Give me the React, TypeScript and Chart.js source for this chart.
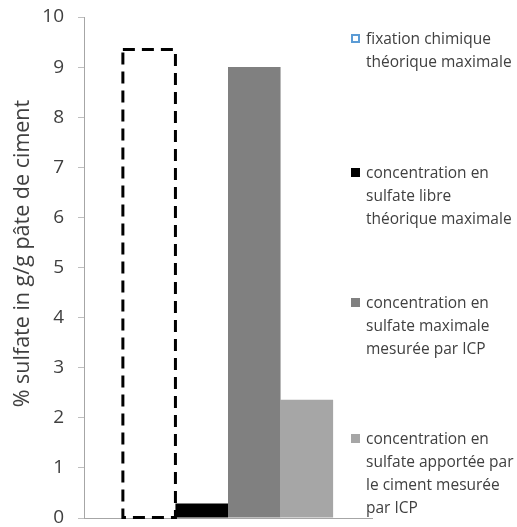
import React, { useEffect, useRef } from "react";
import { Chart, registerables } from "chart.js";

Chart.register(...registerables);

// ---- data ----
const categories = [""];
const fixationValues = [9.35];
const libreValues = [0.29];
const maxMesureeValues = [9.0];
const apporteeValues = [2.36];
const seriesNames = [
  "fixation chimique théorique maximale",
  "concentration en sulfate libre théorique maximale",
  "concentration en sulfate maximale mesurée par ICP",
  "concentration en sulfate apportée par le ciment mesurée par ICP",
];
const legendLines = [
  ["fixation chimique", "théorique maximale"],
  ["concentration en", "sulfate libre", "théorique maximale"],
  ["concentration en", "sulfate maximale", "mesurée par ICP"],
  ["concentration en", "sulfate apportée par", "le ciment mesurée", "par ICP"],
];
const yMin = 0;
const yMax = 10;
const yStep = 1;
const yTitle = "% sulfate in g/g pâte de ciment";

const FONT = "'Open Sans', sans-serif";
const TEXT = "#404040";

const dashedOutline = {
  id: "dashedOutline",
  afterDatasetsDraw(chart: any) {
    const meta = chart.getDatasetMeta(0);
    const ctx = chart.ctx;
    meta.data.forEach((el: any) => {
      const { x, y, base, width } = el.getProps(["x", "y", "base", "width"], true);
      ctx.save();
      ctx.setLineDash([12, 7]);
      ctx.lineWidth = 3;
      ctx.strokeStyle = "#000000";
      ctx.strokeRect(x - width / 2, y, width, base - y);
      ctx.restore();
    });
  },
};

export default function App() {
  const ref = useRef<HTMLCanvasElement | null>(null);

  useEffect(() => {
    if (!ref.current) return;
    const chart = new Chart(ref.current, {
      type: "bar",
      data: {
        labels: categories,
        datasets: [
          { label: seriesNames[0], data: fixationValues, backgroundColor: "rgba(0,0,0,0)", borderWidth: 0 },
          { label: seriesNames[1], data: libreValues, backgroundColor: "#000000", borderWidth: 0 },
          { label: seriesNames[2], data: maxMesureeValues, backgroundColor: "#808080", borderWidth: 0 },
          { label: seriesNames[3], data: apporteeValues, backgroundColor: "#A6A6A6", borderWidth: 0 },
        ],
      },
      options: {
        animation: false,
        responsive: true,
        maintainAspectRatio: false,
        layout: { padding: { left: 8, top: 17, right: 145, bottom: 9 } },
        datasets: { bar: { categoryPercentage: 0.73, barPercentage: 1 } },
        plugins: { legend: { display: false }, tooltip: { enabled: false } },
        scales: {
          x: {
            grid: { display: false },
            ticks: { display: false },
            border: { display: true, color: "#A6A6A6", width: 1 },
            afterFit: (s: any) => { s.height = 0; },
          },
          y: {
            min: yMin,
            max: yMax,
            ticks: { stepSize: yStep, color: TEXT, padding: 14, font: { family: FONT, size: 19, lineHeight: 0.9 } },
            grid: { display: true, drawOnChartArea: false, drawTicks: true, tickLength: 6, color: "#BFBFBF" },
            border: { display: true, color: "#A6A6A6", width: 1 },
            title: {
              display: true,
              text: "\u00a0\u00a0\u00a0\u00a0\u00a0" + yTitle,
              color: TEXT,
              font: { family: FONT, size: 21.5 },
              padding: { top: 2, bottom: 4 },
            },
            afterFit: (s: any) => {
              s.width = 84 - 8;
              s.paddingTop = 0;
              s.paddingBottom = 0;
            },
          },
        },
      },
      plugins: [dashedOutline],
    });
    return () => chart.destroy();
  }, []);

  const entryTops = [38, 172, 302, 438];
  const markerStyles: React.CSSProperties[] = [
    { border: "2px dashed #5B9BD5", background: "transparent", width: 5, height: 5 },
    { background: "#000000", width: 9, height: 9 },
    { background: "#808080", width: 9, height: 9 },
    { background: "#A6A6A6", width: 9, height: 9 },
  ];

  return (
    <div style={{ position: "absolute", left: 0, top: 0, width: 517, height: 527, background: "#fff" }}>
      <canvas ref={ref} />
      {legendLines.map((lines, i) => (
        <div key={i}>
          <div style={{ position: "absolute", left: 351, top: entryTops[i] - 4.5, ...markerStyles[i] }} />
          {lines.map((t, j) => (
            <div
              key={j}
              style={{
                position: "absolute",
                left: 366,
                top: entryTops[i] + j * 23 - 11.5,
                height: 23,
                lineHeight: "23px",
                fontFamily: FONT,
                fontSize: 15.5,
                color: TEXT,
                whiteSpace: "nowrap",
              }}
            >
              {t}
            </div>
          ))}
        </div>
      ))}
    </div>
  );
}
